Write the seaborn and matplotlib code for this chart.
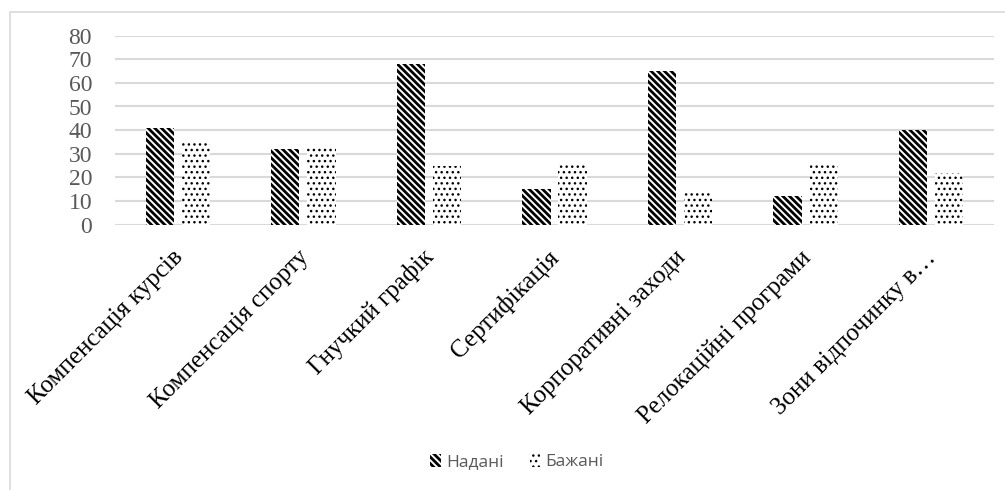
import matplotlib
matplotlib.use("Agg")
import matplotlib.pyplot as plt
from matplotlib.patches import Rectangle, Patch
from matplotlib.transforms import ScaledTranslation
import seaborn as sns
import pandas as pd

# Benefit categories and survey results (share of respondents, %)
categories = [
    "Компенсація курсів",
    "Компенсація спорту",
    "Гнучкий графік",
    "Сертифікація",
    "Корпоративні заходи",
    "Релокаційні програми",
    "Зони відпочинку в…",
]
provided = [41, 32, 68, 15, 65, 12, 40]
desired = [35, 33, 25, 26, 14, 26, 22]
series_names = ["Надані", "Бажані"]
y_ticks = [0, 10, 20, 30, 40, 50, 60, 70, 80]

df = pd.DataFrame({
    "category": categories * 2,
    "value": provided + desired,
    "series": [series_names[0]] * len(categories) + [series_names[1]] * len(categories),
})

sns.set_theme(style="white")
plt.rcParams["hatch.linewidth"] = 2.0

W, H = 1005, 490
fig = plt.figure(figsize=(W / 100, H / 100), dpi=100)
ax = fig.add_axes([115 / W, (H - 224.5) / H, (994 - 115) / W, (224.5 - 35.7) / H])

sns.barplot(
    data=df, x="category", y="value", hue="series",
    order=categories, hue_order=series_names,
    palette=["white", "white"], width=0.576, gap=0.22,
    legend=False, ax=ax, zorder=3,
)

hatches = ["\\\\\\\\\\", "..."]
hatch_lw = [2.0, 1.0]
for cont, hatch, hlw in zip(ax.containers, hatches, hatch_lw):
    for bar in cont:
        bar.set_hatch(hatch)
        bar.set_edgecolor("black")
        bar.set_facecolor("white")
        bar.set_linewidth(0)
        if hasattr(bar, "set_hatch_linewidth"):
            bar.set_hatch_linewidth(hlw)
        else:
            bar._hatch_linewidth = hlw

ax.set_xlim(-0.5, len(categories) - 0.5)
ax.set_ylim(0, 80)
ax.set_yticks(y_ticks)
ax.set_xlabel("")
ax.set_ylabel("")
for s in ax.spines.values():
    s.set_visible(False)
ax.yaxis.grid(True, color="#d9d9d9", linewidth=1.5, zorder=0)
ax.set_axisbelow(True)

serif = ["Liberation Serif", "DejaVu Serif"]
ax.tick_params(axis="y", length=0, pad=16.5, labelsize=17, labelcolor="#595959")
for lab in ax.get_yticklabels():
    lab.set_family(serif)

ax.tick_params(axis="x", length=0, pad=24.5)
ax.set_xticks(range(len(categories)))
ax.set_xticklabels(categories, rotation=45, ha="right", va="baseline",
                   rotation_mode="anchor", fontsize=18, color="black", family=serif)
shift = ScaledTranslation(6 / 100, 0, fig.dpi_scale_trans)
for lab in ax.get_xticklabels():
    lab.set_transform(lab.get_transform() + shift)

# Legend with hatched swatches
handles = []
for name, hatch, hlw in zip(series_names, hatches, hatch_lw):
    p = Patch(facecolor="white", edgecolor="black", hatch=hatch, linewidth=0, label=name)
    if hasattr(p, "set_hatch_linewidth"):
        p.set_hatch_linewidth(hlw)
    else:
        p._hatch_linewidth = hlw
    handles.append(p)
leg = fig.legend(handles=handles, loc="center", bbox_to_anchor=(517 / W, (H - 462) / H),
                 ncol=2, frameon=False, handlelength=0.6, handleheight=0.8,
                 handletextpad=0.3, columnspacing=1.5,
                 prop={"family": ["Open Sans", "DejaVu Sans"], "size": 12.5},
                 labelcolor="#595959")
for h, hlw in zip(leg.get_patches(), hatch_lw):
    if hasattr(h, "set_hatch_linewidth"):
        h.set_hatch_linewidth(hlw)
    else:
        h._hatch_linewidth = hlw

# Light chart-area border
fig.patches.append(Rectangle((9.5 / W, -0.05), 1.1, (H - 11.7) / H + 0.05,
                             transform=fig.transFigure, fill=False,
                             edgecolor="#d9d9d9", linewidth=1.2))

fig.savefig("out.png", dpi=100)
